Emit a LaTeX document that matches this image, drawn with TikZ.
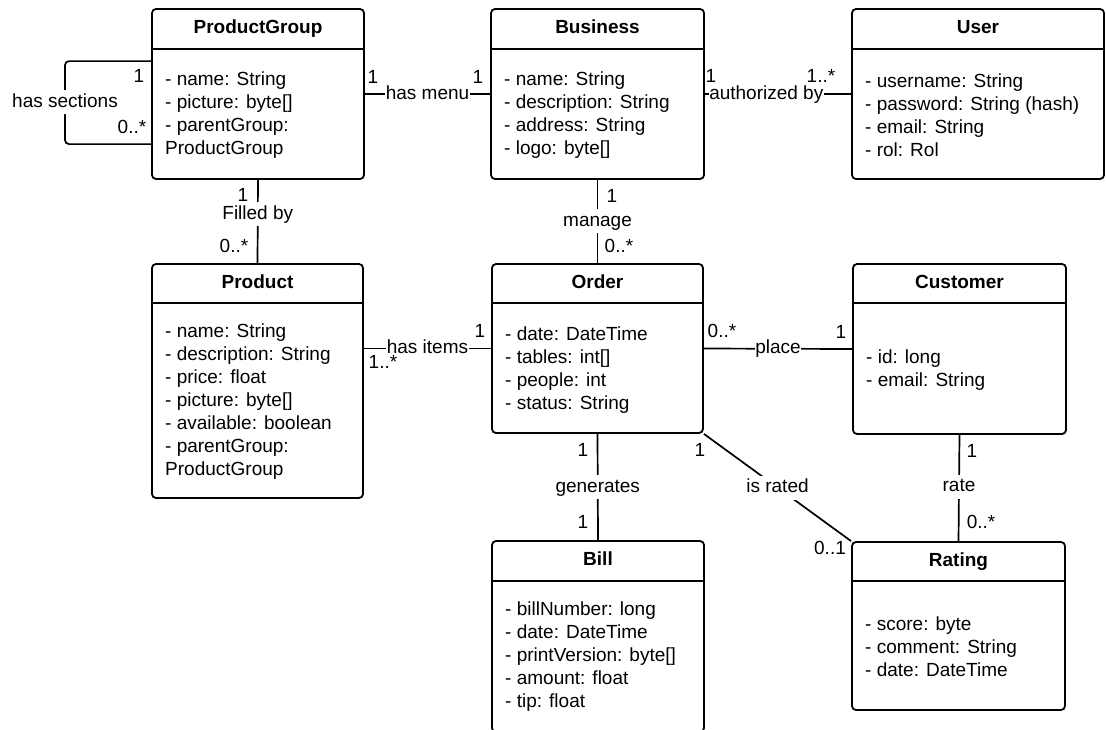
\documentclass[tikz,border=0pt]{standalone}
\usepackage{fontspec}
\setmainfont{Liberation Sans}
\begin{document}
\begin{tikzpicture}[x=1pt, y=-1pt,
  every node/.style={font=\fontsize{19}{23}\selectfont},
  cls/.style={draw, line width=1.8pt, rounded corners=4pt, inner sep=0pt},
  hdr/.style={line width=1.8pt},
  ttl/.style={anchor=base, inner sep=0pt, font=\fontsize{19}{23}\selectfont\bfseries},
  attrs/.style={anchor=west, align=left, inner sep=0pt},
  conn/.style={line width=1.7pt},
  lbl/.style={fill=white, inner xsep=0.5pt, inner ysep=0.5pt, text height=14pt, text depth=4pt},
  lblv/.style={lbl, inner ysep=3pt},
  mult/.style={anchor=base, inner sep=0pt}
]
\useasboundingbox (0,0) rectangle (1106,729);
\fill[white] (0,0) rectangle (1106,729);

% ---------- classes ----------
\node[cls, minimum width=212pt, minimum height=170pt] (pg) at (258,94) {};
\draw[hdr] ([yshift=-41pt]pg.north west) -- ([yshift=-41pt]pg.north east);
\node[ttl] (pgT) at ([yshift=-25.8pt]pg.north) {ProductGroup};
\node[attrs] (pgA) at (165,115) {- name: String\\- picture: byte[]\\- parentGroup:\\ProductGroup};

\node[cls, minimum width=213pt, minimum height=170pt] (bus) at (597.5,94) {};
\draw[hdr] ([yshift=-41pt]bus.north west) -- ([yshift=-41pt]bus.north east);
\node[ttl] (busT) at ([yshift=-25.8pt]bus.north) {Business};
\node[attrs] (busA) at (504,115) {- name: String\\- description: String\\- address: String\\- logo: byte[]};

\node[cls, minimum width=252pt, minimum height=170pt] (user) at (978,94) {};
\draw[hdr] ([yshift=-41pt]user.north west) -- ([yshift=-41pt]user.north east);
\node[ttl] (userT) at ([yshift=-25.8pt]user.north) {User};
\node[attrs] (userA) at (865,115) {- username: String\\- password: String (hash)\\- email: String\\- rol: Rol};

\node[cls, minimum width=211pt, minimum height=234pt] (prod) at (257.5,381) {};
\draw[hdr] ([yshift=-40pt]prod.north west) -- ([yshift=-40pt]prod.north east);
\node[ttl] (prodT) at ([yshift=-25.3pt]prod.north) {Product};
\node[attrs] (prodA) at (165,401.5) {- name: String\\- description: String\\- price: float\\- picture: byte[]\\- available: boolean\\- parentGroup:\\ProductGroup};

\node[cls, minimum width=211pt, minimum height=169pt] (order) at (597.5,348.5) {};
\draw[hdr] ([yshift=-40pt]order.north west) -- ([yshift=-40pt]order.north east);
\node[ttl] (orderT) at ([yshift=-25.3pt]order.north) {Order};
\node[attrs] (orderA) at (505,370) {- date: DateTime\\- tables: int[]\\- people: int\\- status: String};

\node[cls, minimum width=213pt, minimum height=170pt] (cust) at (959.5,349) {};
\draw[hdr] ([yshift=-40pt]cust.north west) -- ([yshift=-40pt]cust.north east);
\node[ttl] (custT) at ([yshift=-25.3pt]cust.north) {Customer};
\node[attrs] (custA) at (866,370) {- id: long\\- email: String};

\node[cls, minimum width=212pt, minimum height=191pt] (bill) at (598,636.5) {};
\draw[hdr] ([yshift=-41pt]bill.north west) -- ([yshift=-41pt]bill.north east);
\node[ttl] (billT) at ([yshift=-25.8pt]bill.north) {Bill};
\node[attrs] (billA) at (505,657) {- billNumber: long\\- date: DateTime\\- printVersion: byte[]\\- amount: float\\- tip: float};

\node[cls, minimum width=213pt, minimum height=168pt] (rating) at (958.5,626) {};
\draw[hdr] ([yshift=-40pt]rating.north west) -- ([yshift=-40pt]rating.north east);
\node[ttl] (ratingT) at ([yshift=-25.3pt]rating.north) {Rating};
\node[attrs] (ratingA) at (865,646.5) {- score: byte\\- comment: String\\- date: DateTime};

% ---------- associations ----------
\draw[conn, rounded corners=4pt] ([yshift=-53pt]pg.north west) -| (65,102)
  node[lblv] (lHS) {has sections} |- ([yshift=-136pt]pg.north west);
\draw[conn] (pg.east) -- node[lbl] (lHM) {has menu} (bus.west);
\draw[conn] (bus.east) -- node[lbl, pos=0.42] (lAU) {authorized by} (user.west);
\draw[conn] (pg.south) -- node[lblv, pos=0.41] (lFB) {Filled by} (prod.north);
\draw[conn] (bus.south) -- node[lblv, pos=0.494] (lMG) {manage} (order.north);
\draw[conn] (prod.east |- order.west) -- node[lbl] (lHI) {has items} (order.west);
\draw[conn] (order.east) -- node[lbl] (lPL) {place} (cust.west);
\draw[conn] (order.south) -- node[lblv] (lGE) {generates} (bill.north);
\draw[conn] (order.south east) -- node[lblv] (lIR) {is rated} (rating.north west);
\draw[conn] (cust.south) -- node[lblv, pos=0.49] (lRA) {rate} (rating.north);

% ---------- multiplicities ----------
\node[mult] (mHS1) at (139,82) {1};
\node[mult] (mHS2) at (132,133) {0..*};
\node[mult] (mHM1) at (373,83) {1};
\node[mult] (mHM2) at (478,83) {1};
\node[mult] (mAU1) at (711,82) {1};
\node[mult] (mAU2) at (821,82) {1..*};
\node[mult] (mFB1) at (243,201) {1};
\node[mult] (mFB2) at (234,252) {0..*};
\node[mult] (mMG1) at (612,202) {1};
\node[mult] (mMG2) at (619,252) {0..*};
\node[mult] (mHI1) at (480,337) {1};
\node[mult] (mHI2) at (383,368) {1..*};
\node[mult] (mPL1) at (722,337) {0..*};
\node[mult] (mPL2) at (841,338) {1};
\node[mult] (mGE1) at (583,456) {1};
\node[mult] (mGE2) at (583,528) {1};
\node[mult] (mIR1) at (700,456) {1};
\node[mult] (mIR2) at (830,554) {0..1};
\node[mult] (mRA1) at (972,457) {1};
\node[mult] (mRA2) at (981,528) {0..*};
\end{tikzpicture}
\end{document}
